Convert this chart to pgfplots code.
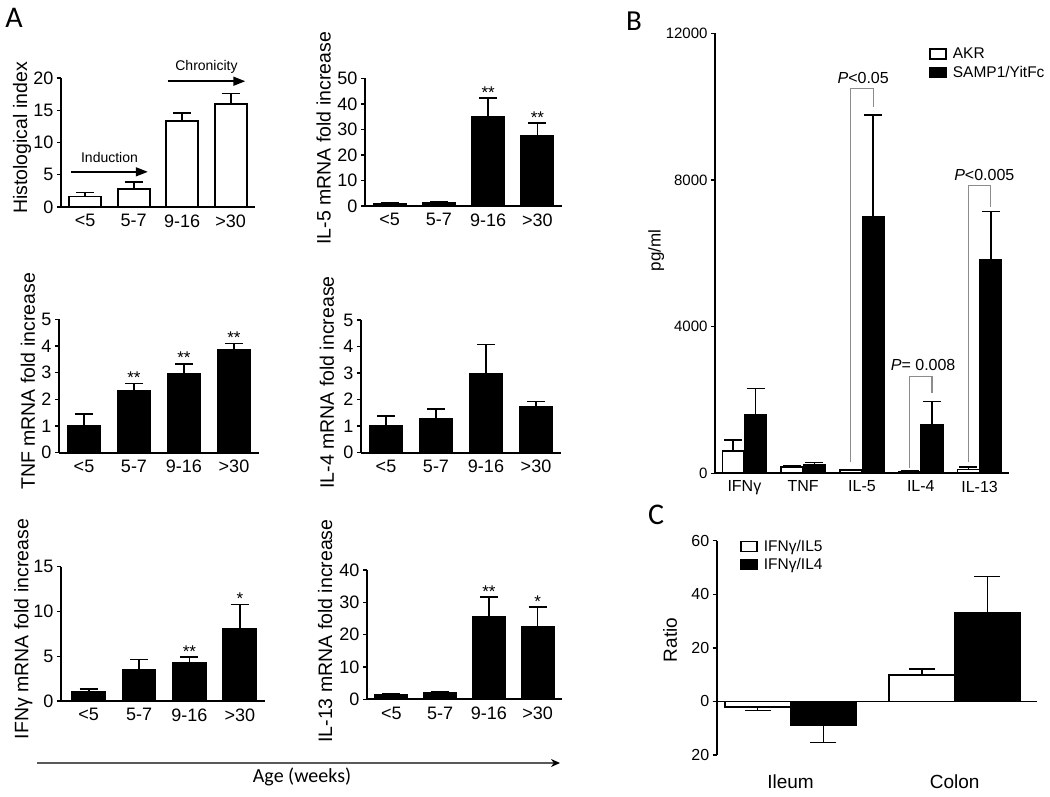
\documentclass[border=0pt]{standalone}
\usepackage{fontspec}
\setmainfont{Liberation Sans}
\newfontfamily\calfont{Carlito}
\usepackage{pgfplots}
\pgfplotsset{compat=1.18}
\usetikzlibrary{arrows.meta}

\pgfplotsset{
  base/.style={scale only axis, anchor=south west, clip=false,
    axis x line*=bottom, axis y line*=left,
    axis line style={line width=1.7pt,-},
    tick align=outside, major tick length=4pt,
    xtick style={draw=none},
    ytick style={line width=1.4pt, black},
    /pgf/number format/assume math mode=true,
    ylabel style={anchor=center, rotate=0},
  },
  Apanel/.style={base, xmin=-0.5, xmax=3.5, xtick={0,1,2,3},
    xticklabels={<5,5-7,9-16,>30},
    tick label style={font=\fontsize{18}{20}\selectfont},
    ylabel style={font=\fontsize{19.5}{22}\selectfont},
  },
  barA/.style={ybar, bar width=0.66, bar shift=0pt, draw=black, line width=1.6pt,
    error bars/y dir=plus, error bars/y explicit,
    error bars/error bar style={line width=1.6pt, black},
    error bars/error mark options={rotate=90, line width=1.6pt, mark size=9pt, black}},
  mylegend/.style={legend image code/.code={\draw[line width=1.3pt, ##1] (0pt,-5pt) rectangle (16pt,5pt); \path[draw=none, fill=none] (0pt,0pt) -- (21pt,0pt);}},
}
\newcommand{\stars}[2]{\node[anchor=base, font=\fontsize{17}{17}\selectfont] at (axis cs:#1) {#2};}

\begin{document}
\begin{tikzpicture}
\path[use as bounding box] (0,0) rectangle (1050pt,796pt);

% ---------- Panel A1 ----------
\begin{axis}[Apanel, at={(61pt,589pt)}, width=194pt, height=129pt,
  ymin=0, ymax=20, ytick={0,5,10,15,20},
  ylabel={Histological index},
  ylabel style={at={(axis description cs:-0.2,0.535)}}]
\addplot[barA, fill=white] table[x=x,y=y,y error=e]{
x y e
0 1.65 0.60
1 2.83 1.07
2 13.3 1.30
3 16.0 1.60
};
\draw[-{Triangle[length=12pt,width=9pt]}, line width=1.5pt] (axis cs:-0.29,5.45) -- (axis cs:1.29,5.45);
\node[font=\fontsize{14}{14}\selectfont] at (axis cs:0.5,7.75) {Induction};
\draw[-{Triangle[length=12pt,width=9pt]}, line width=1.5pt] (axis cs:1.7,19.5) -- (axis cs:3.3,19.5);
\node[font=\fontsize{14}{14}\selectfont] at (axis cs:2.5,21.7) {Chronicity};
\end{axis}

% ---------- Panel A2 ----------
\begin{axis}[Apanel, at={(365pt,590pt)}, width=197pt, height=127.7pt,
  ymin=0, ymax=50, ytick={0,10,20,30,40,50},
  ylabel={IL-5 mRNA fold increase},
  ylabel style={at={(axis description cs:-0.21,0.53)}}]
\addplot[barA, fill=black] table[x=x,y=y,y error=e]{
x y e
0 0.9 0.3
1 1.4 0.3
2 35.0 7.2
3 27.5 4.9
};
\stars{2,42.2}{**}
\stars{3,32.4}{**}
\end{axis}

% ---------- Panel A3 ----------
\begin{axis}[Apanel, at={(59pt,343.3pt)}, width=200pt, height=133.4pt,
  ymin=0, ymax=5, ytick={0,1,2,3,4,5},
  ylabel={TNF mRNA fold increase},
  ylabel style={at={(axis description cs:-0.155,0.534)}}]
\addplot[barA, fill=black] table[x=x,y=y,y error=e]{
x y e
0 1.01 0.43
1 2.31 0.28
2 2.95 0.38
3 3.86 0.23
};
\stars{1,2.59}{**}
\stars{2,3.33}{**}
\stars{3,4.09}{**}
\end{axis}

% ---------- Panel A4 ----------
\begin{axis}[Apanel, at={(361pt,343.3pt)}, width=200pt, height=132.7pt,
  ymin=0, ymax=5, ytick={0,1,2,3,4,5},
  ylabel={IL-4 mRNA fold increase},
  ylabel style={at={(axis description cs:-0.17,0.529)}}]
\addplot[barA, fill=black] table[x=x,y=y,y error=e]{
x y e
0 1.00 0.39
1 1.29 0.36
2 2.96 1.11
3 1.72 0.21
};
\end{axis}

% ---------- Panel A5 ----------
\begin{axis}[Apanel, xmin=-0.55, at={(61pt,95pt)}, width=204pt, height=134.3pt,
  ymin=0, ymax=15, ytick={0,5,10,15},
  ylabel={IFNγ mRNA fold increase},
  ylabel style={at={(axis description cs:-0.185,0.536)}}]
\addplot[barA, fill=black] table[x=x,y=y,y error=e]{
x y e
0 1.04 0.30
1 3.50 1.15
2 4.28 0.63
3 8.11 2.68
};
\stars{2,4.91}{**}
\stars{3,10.79}{*}
\end{axis}

% ---------- Panel A6 ----------
\begin{axis}[Apanel, at={(367pt,96.7pt)}, width=195pt, height=129.3pt,
  ymin=0, ymax=40, ytick={0,10,20,30,40},
  ylabel={IL-13 mRNA fold increase},
  ylabel style={at={(axis description cs:-0.215,0.528)}}]
\addplot[barA, fill=black] table[x=x,y=y,y error=e]{
x y e
0 1.3 0.3
1 1.9 0.3
2 25.6 6.0
3 22.4 6.1
};
\stars{2,31.6}{**}
\stars{3,28.5}{*}
\end{axis}

% Age arrow
\draw[line width=1.6pt, black!65, -{Stealth[length=9pt,width=8pt,black]}] (37pt,33pt) -- (560pt,33pt);
\node[font=\calfont\fontsize{20}{20}\selectfont] at (302pt,19pt) {Age (weeks)};

% ---------- Panel B ----------
\begin{axis}[base, at={(715pt,322.7pt)}, width=294pt, height=440pt,
  xmin=-0.5, xmax=4.5, ymin=0, ymax=12000,
  xtick={0,1,2,3,4}, xticklabels={IFNγ,TNF,IL-5,IL-4,IL-13},
  ytick={0,4000,8000,12000},
  scaled y ticks=false,
  yticklabel style={font=\fontsize{15}{17}\selectfont, /pgf/number format/1000 sep={}},
  xticklabel style={font=\fontsize{16}{18}\selectfont},
  ylabel={pg/ml},
  ylabel style={font=\fontsize{17}{19}\selectfont, at={(axis description cs:-0.2,0.507)}},
  legend style={at={(rel axis cs:0.728,0.972)}, anchor=north west, draw=none, fill=none,
    inner sep=0pt, font=\fontsize{15.5}{19}\selectfont, row sep=2pt},
  legend cell align=left]
% AKR bars sit at category - 0.19
\addplot[ybar, bar width=0.37, bar shift=0pt, fill=white, draw=black, line width=1.6pt, mylegend,
  error bars/y dir=plus, error bars/y explicit,
  error bars/error bar style={line width=1.5pt, black},
  error bars/error mark options={rotate=90, line width=1.5pt, mark size=9pt, black}]
  table[x=x,y=y,y error=e]{
x y e
-0.19 609 300
0.81 164 36
1.81 82 28
2.81 45 15
3.81 109 64
};
\addlegendentry{AKR}
% SAMP1/YitFc bars sit at category + 0.19
\addplot[ybar, bar width=0.37, bar shift=0pt, fill=black, draw=black, line width=1.6pt, mylegend,
  error bars/y dir=plus, error bars/y explicit,
  error bars/error bar style={line width=1.5pt, black},
  error bars/error mark options={rotate=90, line width=1.5pt, mark size=9pt, black}]
  table[x=x,y=y,y error=e]{
x y e
0.19 1591 718
1.19 227 63
2.19 6998 2773
3.19 1318 637
4.19 5817 1317
};
\addlegendentry{SAMP1/YitFc}
\draw[black!45, line width=1.1pt] (axis cs:1.81,300) -- (axis cs:1.81,10500) -- (axis cs:2.19,10500) -- (axis cs:2.19,10000);
\draw[black!45, line width=1.1pt] (axis cs:2.81,140) -- (axis cs:2.81,2635) -- (axis cs:3.19,2635) -- (axis cs:3.19,2190);
\draw[black!45, line width=1.1pt] (axis cs:3.81,300) -- (axis cs:3.81,7843) -- (axis cs:4.19,7843) -- (axis cs:4.19,7270);
\node[font=\fontsize{16}{18}\selectfont] at (axis cs:2.02,10780) {\textit{P}<0.05};
\node[font=\fontsize{16}{18}\selectfont] at (axis cs:4.08,8134) {\textit{P}<0.005};
\node[font=\fontsize{16}{18}\selectfont] at (axis cs:3.04,2954) {\textit{P}= 0.008};
\end{axis}

% ---------- Panel C ----------
\begin{axis}[base, at={(716.7pt,41pt)}, width=320pt, height=214.3pt,
  xmin=-0.45, xmax=1.5, ymin=-20, ymax=60,
  x axis line style={draw=none},
  xtick={0,1}, xticklabels={Ileum,Colon},
  xticklabel style={font=\fontsize{19}{21}\selectfont, yshift=-12pt},
  ytick={-20,0,20,40,60}, yticklabels={20,0,20,40,60},
  yticklabel style={font=\fontsize{16}{18}\selectfont},
  extra y ticks={0}, extra y tick labels={},
  extra y tick style={grid=major, major grid style={line width=1.7pt, black}},
  ylabel={Ratio},
  ylabel style={font=\fontsize{19}{21}\selectfont, at={(axis description cs:-0.146,0.537)}},
  legend style={at={(rel axis cs:0.073,1.012)}, anchor=north west, draw=none, fill=none,
    inner sep=0pt, font=\fontsize{15.5}{19}\selectfont, row sep=1pt},
  legend cell align=left]
% IFNg/IL5 bars sit at category - 0.2
\addplot[ybar, bar width=0.4, bar shift=0pt, fill=white, draw=black, line width=1.6pt, mylegend,
  error bars/y dir=both, error bars/y explicit,
  error bars/error bar style={line width=1.5pt, black},
  error bars/error mark options={rotate=90, line width=1.5pt, mark size=13pt, black}]
  table[x=x,y=y,y error plus=ep,y error minus=em]{
x y ep em
-0.2 -2.1 0 1.25
0.8 9.8 2.25 0
};
\addlegendentry{IFNγ/IL5}
% IFNg/IL4 bars sit at category + 0.2
\addplot[ybar, bar width=0.4, bar shift=0pt, fill=black, draw=black, line width=1.6pt, mylegend,
  error bars/y dir=both, error bars/y explicit,
  error bars/error bar style={line width=1.5pt, black},
  error bars/error mark options={rotate=90, line width=1.5pt, mark size=13pt, black}]
  table[x=x,y=y,y error plus=ep,y error minus=em]{
x y ep em
0.2 -8.7 0 6.6
1.2 33.2 13.4 0
};
\addlegendentry{IFNγ/IL4}
\end{axis}

% panel letters
\node[font=\calfont\fontsize{30}{30}\selectfont] at (14pt,778pt) {A};
\node[font=\calfont\fontsize{29}{29}\selectfont] at (634pt,775pt) {B};
\node[font=\calfont\fontsize{30}{30}\selectfont] at (656pt,281pt) {C};
\end{tikzpicture}
\end{document}
